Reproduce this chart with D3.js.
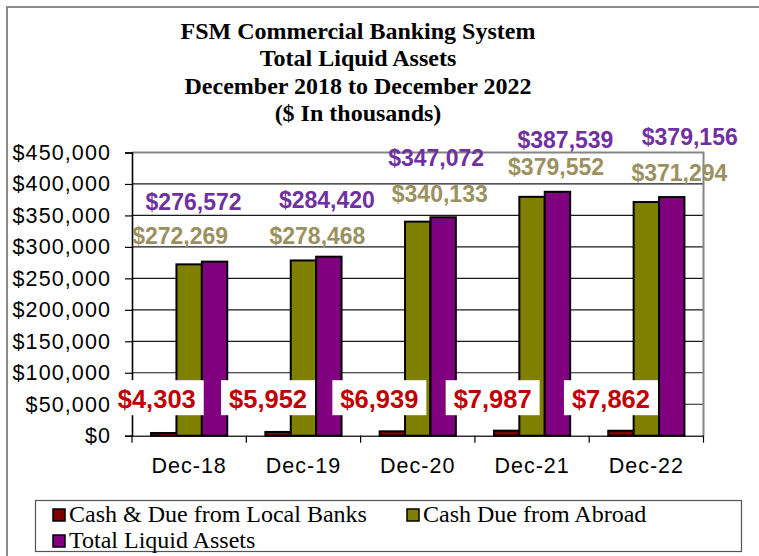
<!DOCTYPE html>
<html>
<head>
<meta charset="utf-8">
<script src="https://cdn.jsdelivr.net/npm/d3@7"></script>
<style>
  body { margin: 0; background: #fff; }
  svg { display: block; }
</style>
</head>
<body>
<div id="chart"></div>
<script>
const categories = ["Dec-18", "Dec-19", "Dec-20", "Dec-21", "Dec-22"];
const localBanks = [4303, 5952, 6939, 7987, 7862];
const dueAbroad = [272269, 278468, 340133, 379552, 371294];
const totalLiquid = [276572, 284420, 347072, 387539, 379156];
const yTicks = [0, 50000, 100000, 150000, 200000, 250000, 300000, 350000, 400000, 450000];
const titleLines = [
    "FSM Commercial Banking System",
    "Total Liquid Assets",
    "December 2018 to December 2022",
    "($ In thousands)"
];
const seriesNames = ["Cash & Due from Local Banks", "Cash Due from Abroad", "Total Liquid Assets"];

// hand placed label nudges (pixels), as in the original sheet
const totalNudge = [[-21, -52], [-2, -49], [-7, -51], [8, -44], [18, -52]];
const abroadNudge = [[-9, -20], [14, -16], [22, -20], [24, -22], [33, -21]];
const localNudge = [-7, -10, -13, -14, -10];

const colors = ["#800000", "#808000", "#800080"];
const labelColors = ["#c00000", "#9b9160", "#7030a0"];

const W = 759, H = 556;
const plot = {left: 132, top: 152.5, right: 703.5, bottom: 435.7};

const svg = d3.select("#chart").append("svg")
    .attr("width", W)
    .attr("height", H);

// outer frame
svg.append("rect")
    .attr("x", 7).attr("y", 7)
    .attr("width", W + 20).attr("height", H + 20)
    .attr("fill", "none")
    .attr("stroke", "#8c8c8c")
    .attr("stroke-width", 2);

// title
svg.append("g").selectAll("text")
    .data(titleLines)
    .enter().append("text")
    .attr("x", 358)
    .attr("y", (d, i) => 39 + i * 27.3)
    .attr("text-anchor", "middle")
    .attr("font-family", "'Liberation Serif', 'Times New Roman', serif")
    .attr("font-weight", "bold")
    .attr("font-size", 24)
    .text(d => d);

const x = d3.scaleBand().domain(categories).range([plot.left, plot.right]);
const xs = d3.scaleBand().domain([0, 1, 2])
    .range([x.bandwidth() / 6, x.bandwidth() * 5 / 6]);
const y = d3.scaleLinear().domain([0, 450000]).range([plot.bottom, plot.top]);

// gridlines
svg.append("g").selectAll("line")
    .data(yTicks.slice(1, -1))
    .enter().append("line")
    .attr("x1", plot.left).attr("x2", plot.right)
    .attr("y1", d => y(d)).attr("y2", d => y(d))
    .attr("stroke", "#1a1a1a")
    .attr("stroke-width", 1.2);

// plot border top/right
svg.append("path")
    .attr("d", `M${plot.left},${plot.top}H${plot.right}V${plot.bottom}`)
    .attr("fill", "none")
    .attr("stroke", "#858585")
    .attr("stroke-width", 2);

// y axis
const yAxis = svg.append("g")
    .attr("transform", `translate(${plot.left},0)`)
    .call(d3.axisLeft(y).tickValues(yTicks).tickSize(7).tickPadding(14)
        .tickFormat(d => "$" + d3.format(",")(d)));
yAxis.select(".domain").attr("stroke", "#000").attr("stroke-width", 1.6);
yAxis.selectAll(".tick line").attr("stroke", "#000").attr("stroke-width", 1.2);
yAxis.selectAll("text")
    .attr("font-family", "Arial, 'Liberation Sans', sans-serif")
    .attr("font-size", 21.5)
    .attr("letter-spacing", 1.1)
    .attr("fill", "#000");

// x axis
const xAxis = svg.append("g")
    .attr("transform", `translate(0,${plot.bottom})`)
    .call(d3.axisBottom(x).tickSize(0).tickPadding(22));
xAxis.select(".domain").attr("stroke", "#333").attr("stroke-width", 1.6);
xAxis.selectAll("text")
    .attr("font-family", "Arial, 'Liberation Sans', sans-serif")
    .attr("font-size", 21.5)
    .attr("letter-spacing", 1)
    .attr("fill", "#000");
xAxis.append("g").selectAll("line")
    .data(categories.concat([null]))
    .enter().append("line")
    .attr("x1", (d, i) => d ? x(d) : plot.right)
    .attr("x2", (d, i) => d ? x(d) : plot.right)
    .attr("y1", 0).attr("y2", 7)
    .attr("stroke", "#000")
    .attr("stroke-width", 1.2);

// bars
const series = [localBanks, dueAbroad, totalLiquid];
const groups = svg.append("g").selectAll("g")
    .data(categories)
    .enter().append("g")
    .attr("transform", d => `translate(${x(d)},0)`);

groups.selectAll("rect")
    .data((d, i) => series.map((s, k) => ({k: k, v: s[i]})))
    .enter().append("rect")
    .attr("x", d => xs(d.k))
    .attr("width", xs.bandwidth())
    .attr("y", d => y(d.v))
    .attr("height", d => y(0) - y(d.v))
    .attr("fill", d => colors[d.k])
    .attr("stroke", "#000")
    .attr("stroke-width", 2);

const money = v => "$" + d3.format(",")(v);

// local bank labels with white boxes
const localLab = svg.append("g");
categories.forEach((c, i) => {
    const cx = x(c) + xs(0) + xs.bandwidth() / 2 + localNudge[i];
    const g = localLab.append("g");
    const t = g.append("text")
        .attr("x", cx)
        .attr("y", y(0) - 27.5)
        .attr("text-anchor", "middle")
        .attr("font-family", "Arial, 'Liberation Sans', sans-serif")
        .attr("font-weight", "bold")
        .attr("font-size", 25.5)
        .attr("fill", labelColors[0])
        .text(money(localBanks[i]));
    const bb = t.node().getBBox();
    g.insert("rect", "text")
        .attr("x", bb.x - 8)
        .attr("y", y(0) - 55.5)
        .attr("width", bb.width + 16)
        .attr("height", 35)
        .attr("fill", "#fff");
});

// abroad and total labels
svg.append("g").selectAll("text")
    .data(categories)
    .enter().append("text")
    .attr("x", (d, i) => x(d) + xs(1) + xs.bandwidth() / 2 + abroadNudge[i][0])
    .attr("y", (d, i) => y(dueAbroad[i]) + abroadNudge[i][1])
    .attr("text-anchor", "middle")
    .attr("font-family", "Arial, 'Liberation Sans', sans-serif")
    .attr("font-weight", "bold")
    .attr("font-size", 23)
    .attr("fill", labelColors[1])
    .text((d, i) => money(dueAbroad[i]));

svg.append("g").selectAll("text")
    .data(categories)
    .enter().append("text")
    .attr("x", (d, i) => x(d) + xs(2) + xs.bandwidth() / 2 + totalNudge[i][0])
    .attr("y", (d, i) => y(totalLiquid[i]) + totalNudge[i][1])
    .attr("text-anchor", "middle")
    .attr("font-family", "Arial, 'Liberation Sans', sans-serif")
    .attr("font-weight", "bold")
    .attr("font-size", 23)
    .attr("fill", labelColors[2])
    .text((d, i) => money(totalLiquid[i]));

// legend
const legend = svg.append("g");
legend.append("rect")
    .attr("x", 35.5).attr("y", 500.5)
    .attr("width", 706).attr("height", 51)
    .attr("fill", "#fff")
    .attr("stroke", "#555")
    .attr("stroke-width", 1.2);
const legendPos = [[53, 515], [407, 515], [53, 541]];
seriesNames.forEach((name, i) => {
    const [lx, ly] = legendPos[i];
    legend.append("rect")
        .attr("x", lx).attr("y", ly - 6)
        .attr("width", 12).attr("height", 12)
        .attr("fill", colors[i])
        .attr("stroke", "#000")
        .attr("stroke-width", 1.5);
    legend.append("text")
        .attr("x", lx + 16)
        .attr("y", ly + 7)
        .attr("font-family", "'Liberation Serif', 'Times New Roman', serif")
        .attr("font-size", 24)
        .attr("fill", "#000")
        .text(name);
});
</script>
</body>
</html>
